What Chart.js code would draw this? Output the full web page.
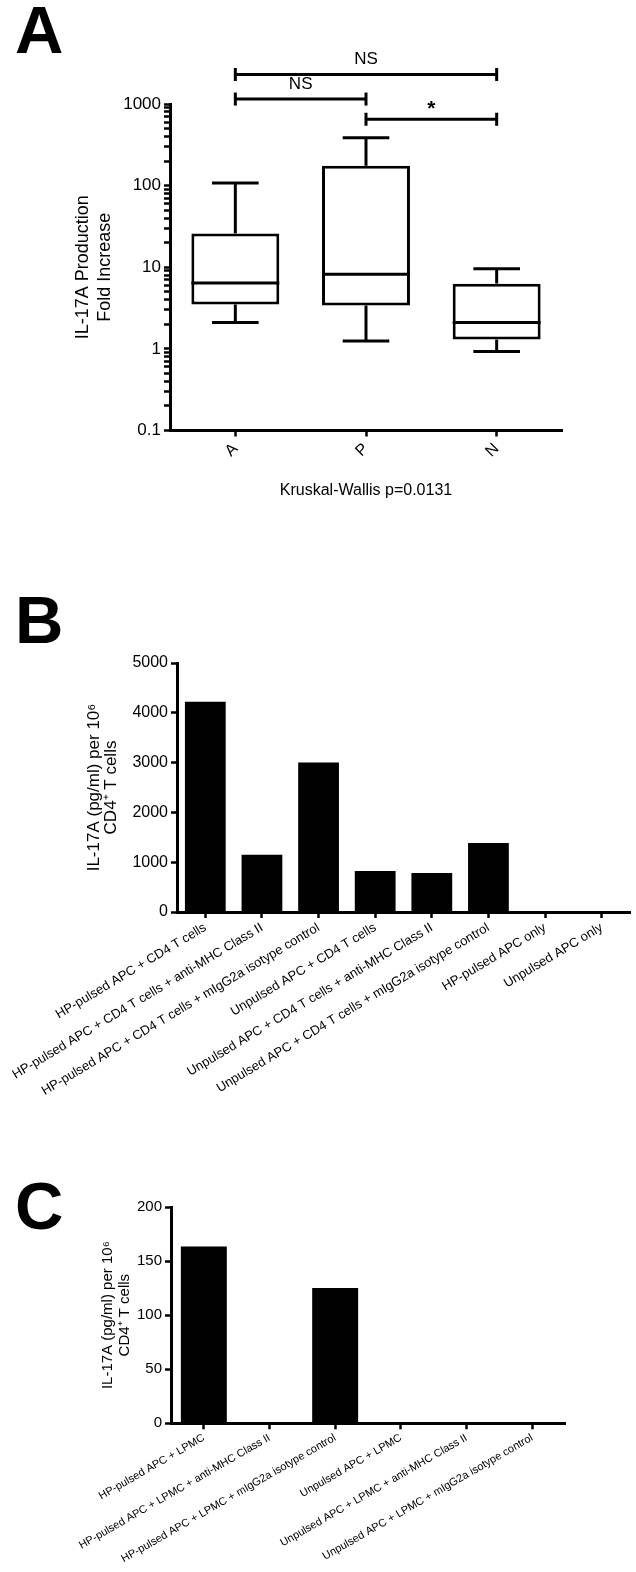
<!DOCTYPE html>
<html>
<head>
<meta charset="utf-8">
<script src="https://cdn.jsdelivr.net/npm/chart.js@4.4.1/dist/chart.umd.min.js"></script>
<style>
  body { margin: 0; background: #fff; width: 636px; height: 1572px; position: relative; overflow: hidden; font-family: 'Liberation Sans', Arial, sans-serif; }
  canvas { position: absolute; left: 0; }
  .panel { position: absolute; left: 15px; font-weight: bold; font-size: 67px; line-height: 67px; color: #000; }
</style>
</head>
<body>
<div class="panel" style="top:-4px">A</div>
<div class="panel" style="top:586px">B</div>
<div class="panel" style="top:1172px">C</div>
<canvas id="chartA" width="636" height="520" style="top:0"></canvas>
<canvas id="chartB" width="636" height="545" style="top:570px"></canvas>
<canvas id="chartC" width="636" height="442" style="top:1130px"></canvas>
<script>
// Panel A: fold increase, five-number summary per group
const groupsA = ['A', 'P', 'N'];
const whiskerLowA = [2.1, 1.25, 0.93];
const q1A = [3.5, 3.4, 1.3];
const medianA = [6.4, 8.2, 2.1];
const q3A = [26, 175, 6.3];
const whiskerHighA = [108, 385, 9.6];
const decadesA = [0.1, 1, 10, 100, 1000];

// significance brackets (group index from/to, height in data units)
const bracketsA = [
  { from: 0, to: 2, level: 2300, label: 'NS' },
  { from: 0, to: 1, level: 1150, label: 'NS' },
  { from: 1, to: 2, level: 650, label: '*' }
];

// Panel B
const conditionsB = [
  'HP-pulsed APC + CD4 T cells',
  'HP-pulsed APC + CD4 T cells + anti-MHC Class II',
  'HP-pulsed APC + CD4 T cells + mIgG2a isotype control',
  'Unpulsed APC + CD4 T cells',
  'Unpulsed APC + CD4 T cells + anti-MHC Class II',
  'Unpulsed APC + CD4 T cells + mIgG2a isotype control',
  'HP-pulsed APC only',
  'Unpulsed APC only'
];
const il17B = [4220, 1150, 3000, 825, 785, 1385, 0, 0];

// Panel C
const conditionsC = [
  'HP-pulsed APC + LPMC',
  'HP-pulsed APC + LPMC + anti-MHC Class II',
  'HP-pulsed APC + LPMC + mIgG2a isotype control',
  'Unpulsed APC + LPMC',
  'Unpulsed APC + LPMC + anti-MHC Class II',
  'Unpulsed APC + LPMC + mIgG2a isotype control'
];
const il17C = [163.5, 0, 125, 0, 0, 0];

Chart.defaults.font.family = "'Liberation Sans', Arial, sans-serif";
Chart.defaults.color = '#000';

// minor log ticks: 1..9 x each decade, plus the last decade
const logTicksA = [];
decadesA.forEach((d, i) => {
  if (i === decadesA.length - 1) { logTicksA.push(d); return; }
  for (let k = 1; k <= 9; k++) logTicksA.push(+(d * k).toPrecision(6));
});

function axisStyle(fontSize) {
  return {
    border: { display: true, color: '#000', width: 3 },
    grid: { display: true, drawOnChartArea: false, drawTicks: true, tickLength: 6, tickWidth: 2.5, tickColor: '#000', offset: false },
    ticks: { color: '#000', font: { size: fontSize }, padding: 3 }
  };
}

// median line, whiskers and brackets for the box plot
const boxPlotExtras = {
  id: 'boxPlotExtras',
  afterDatasetsDraw(chart) {
    const ctx = chart.ctx;
    const xs = chart.scales.x, ys = chart.scales.y;
    const meta = chart.getDatasetMeta(0);
    const line = (x1, y1, x2, y2) => { ctx.beginPath(); ctx.moveTo(x1, y1); ctx.lineTo(x2, y2); ctx.stroke(); };
    ctx.save();
    ctx.strokeStyle = '#000';
    ctx.lineWidth = 3;
    meta.data.forEach((bar, i) => {
      const cx = bar.x;
      const half = bar.width / 2;
      const cap = half * 0.53;
      const yMed = ys.getPixelForValue(medianA[i]);
      const yQ1 = ys.getPixelForValue(q1A[i]);
      const yQ3 = ys.getPixelForValue(q3A[i]);
      const yLo = ys.getPixelForValue(whiskerLowA[i]);
      const yHi = ys.getPixelForValue(whiskerHighA[i]);
      line(cx - half, yMed, cx + half, yMed);
      line(cx, yQ3, cx, yHi);
      line(cx - cap, yHi, cx + cap, yHi);
      line(cx, yQ1, cx, yLo);
      line(cx - cap, yLo, cx + cap, yLo);
    });
    ctx.fillStyle = '#000';
    ctx.textAlign = 'center';
    ctx.textBaseline = 'alphabetic';
    bracketsA.forEach(b => {
      const x1 = xs.getPixelForValue(b.from), x2 = xs.getPixelForValue(b.to);
      const y = ys.getPixelForValue(b.level);
      line(x1, y, x2, y);
      line(x1, y - 6.5, x1, y + 6.5);
      line(x2, y - 6.5, x2, y + 6.5);
      if (b.label === '*') {
        ctx.font = "bold 21px 'Liberation Sans', Arial, sans-serif";
        ctx.fillText(b.label, (x1 + x2) / 2, y - 4);
      } else {
        ctx.font = "17px 'Liberation Sans', Arial, sans-serif";
        ctx.fillText(b.label, (x1 + x2) / 2, y - 10);
      }
    });
    ctx.restore();
  }
};

const yA = axisStyle(17);
new Chart(document.getElementById('chartA'), {
  type: 'bar',
  data: {
    labels: groupsA,
    datasets: [{
      data: groupsA.map((g, i) => [q1A[i], q3A[i]]),
      backgroundColor: '#fff',
      borderColor: '#000',
      borderWidth: 3,
      borderSkipped: false,
      barPercentage: 0.673,
      categoryPercentage: 1
    }]
  },
  options: {
    responsive: false,
    animation: false,
    layout: { padding: { left: 0, right: 74, top: 104, bottom: 0 } },
    plugins: { legend: { display: false }, tooltip: { enabled: false } },
    scales: {
      x: {
        ...axisStyle(16),
        ticks: { color: '#000', font: { size: 16 }, padding: 3, minRotation: 45, maxRotation: 45, autoSkip: false },
        title: { display: true, text: 'Kruskal-Wallis p=0.0131', color: '#000', font: { size: 16 }, padding: { top: 0, bottom: 20 } },
        afterFit: (scale) => { scale.height = 89.5; }
      },
      y: {
        ...yA,
        type: 'logarithmic',
        min: 0.1,
        max: 1000,
        ticks: {
          ...yA.ticks,
          autoSkip: false,
          callback: (v) => {
            const l = Math.log10(v);
            return Math.abs(l - Math.round(l)) < 1e-9 ? String(v) : '';
          }
        },
        afterBuildTicks: (scale) => { scale.ticks = logTicksA.map(v => ({ value: v })); },
        title: { display: true, text: ['IL-17A Production', 'Fold Increase'], color: '#000', font: { size: 18, lineHeight: 1.22 }, padding: { top: 72, bottom: 0 } },
        afterFit: (scale) => { scale.width = 170; }
      }
    }
  },
  plugins: [boxPlotExtras]
});

function barChart(id, labels, values, opts) {
  const yS = axisStyle(opts.tickFont);
  return new Chart(document.getElementById(id), {
    type: 'bar',
    data: {
      labels: labels,
      datasets: [{
        data: values,
        backgroundColor: '#000',
        borderWidth: 0,
        barPercentage: opts.barPct,
        categoryPercentage: 1
      }]
    },
    options: {
      responsive: false,
      animation: false,
      layout: { padding: { left: 0, right: opts.padRight, top: opts.padTop, bottom: 0 } },
      plugins: { legend: { display: false }, tooltip: { enabled: false } },
      scales: {
        x: {
          ...axisStyle(opts.labelFont),
          ticks: { color: '#000', font: { size: opts.labelFont }, padding: 2, minRotation: opts.rot, maxRotation: opts.rot, autoSkip: false },
          afterFit: (scale) => { scale.height = opts.xHeight; }
        },
        y: {
          ...yS,
          min: 0,
          max: opts.max,
          ticks: { ...yS.ticks, stepSize: opts.step, callback: (v) => String(v) },
          title: { display: true, text: ['IL-17A (pg/ml) per 10\u2076', 'CD4\u207A T cells'], color: '#000', font: { size: opts.titleFont, lineHeight: opts.titleLH }, padding: { top: opts.titlePad, bottom: 0 } },
          afterFit: (scale) => { scale.width = opts.yWidth; }
        }
      }
    }
  });
}

barChart('chartB', conditionsB, il17B, {
  max: 5000, step: 1000, tickFont: 16, labelFont: 13, rot: 31, barPct: 0.72,
  padTop: 93, padRight: 6, xHeight: 203, yWidth: 177,
  titleFont: 17, titleLH: 1.05, titlePad: 85
});

barChart('chartC', conditionsC, il17C, {
  max: 200, step: 50, tickFont: 15, labelFont: 11, rot: 30, barPct: 0.70,
  padTop: 77, padRight: 71, xHeight: 148.7, yWidth: 171,
  titleFont: 15, titleLH: 1.1, titlePad: 100
});
</script>
</body>
</html>
